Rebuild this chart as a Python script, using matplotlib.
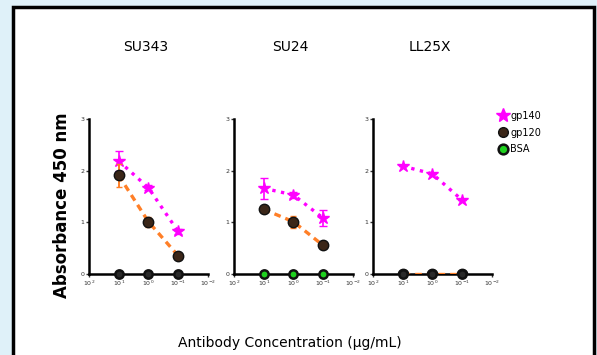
import matplotlib.pyplot as plt
from matplotlib.patches import Rectangle
from matplotlib.lines import Line2D
import numpy as np

plt.rcParams['font.family'] = ['DejaVu Sans']

conc = [10.0, 1.0, 0.1]
panels = ['SU343', 'SU24', 'LL25X']

gp140 = [[2.19, 1.67, 0.82], [1.66, 1.53, 1.08], [2.09, 1.94, 1.43]]
gp140_err = [[0.19, 0.05, 0.05], [0.20, 0.05, 0.15], [0.0, 0.0, 0.0]]
gp120 = [[1.91, 1.01, 0.35], [1.25, 1.01, 0.55], [0.0, 0.0, 0.0]]
gp120_err = [[0.23, 0.10, 0.04], [0.05, 0.12, 0.03], [0.0, 0.0, 0.0]]
bsa = [[0.0, 0.0, 0.0], [0.0, 0.0, 0.0], [0.0, 0.0, 0.0]]
bsa_face = ['#2a2a2a', '#1fd11f', '#2a2a2a']

xticks = [100, 10, 1, 0.1, 0.01]
xticklabels = ['$10^2$', '$10^1$', '$10^0$', '$10^{-1}$', '$10^{-2}$']

fig = plt.figure(figsize=(5.97, 3.55), dpi=100)
fig.patch.set_facecolor('#dff1f9')
fig.patches.append(Rectangle((13/597, -0.01), 581/597, 1 - 7/355 + 0.01,
                             transform=fig.transFigure, facecolor='white',
                             edgecolor='black', linewidth=2.5, zorder=-5))

pink = '#ff00ff'
orange = '#ff7f27'
brown = '#3b2618'

lefts = [89/597, 234/597, 373/597]
for i in range(3):
    ax = fig.add_axes([lefts[i], 0.229, 0.199, 0.435])
    ax.set_facecolor('none')
    ax.errorbar(conc, gp140[i], yerr=gp140_err[i], color=pink, ls=':', lw=2.4,
                marker='*', ms=9, mec=pink, capsize=3, elinewidth=1.2, zorder=3)
    ax.errorbar(conc, gp120[i], yerr=gp120_err[i], color=orange, ls=(0, (2, 1.5)), lw=2.4,
                marker='o', ms=7.5, mfc=brown, mec='#111111', capsize=2.5, elinewidth=1.4,
                ecolor=orange, zorder=4)
    ax.plot(conc, bsa[i], ls='none', marker='o', ms=6, mfc=bsa_face[i], mec='#111111',
            mew=1.8, zorder=5, clip_on=False)
    ax.set_xscale('log')
    ax.set_xlim(100, 0.01)
    ax.set_ylim(0, 3)
    ax.set_xticks(xticks)
    ax.set_xticklabels(xticklabels)
    ax.minorticks_off()
    ax.set_yticks([0, 1, 2, 3])
    ax.tick_params(labelsize=4.5, length=2, width=1, pad=1.5, colors='#333333')
    for s in ['top', 'right']:
        ax.spines[s].set_visible(False)
    for s in ['left', 'bottom']:
        ax.spines[s].set_linewidth(1.8)
    fig.text(lefts[i] + 0.095, 1 - 47/355, panels[i], ha='center', va='center',
             fontsize=10)

fig.text(62/597, 1 - 205/355, 'Absorbance 450 nm', rotation=90, ha='center', va='center',
         fontsize=12, fontweight='bold')
fig.text(290/597, 1 - 343/355, 'Antibody Concentration (\u03bcg/mL)', ha='center',
         va='center', fontsize=10)

handles = [Line2D([], [], ls='none', marker='*', ms=10, color=pink),
           Line2D([], [], ls='none', marker='o', ms=7, mfc=brown, mec='#111111'),
           Line2D([], [], ls='none', marker='o', ms=7, mfc='#1fd11f', mec='#111111', mew=1.8)]
fig.legend(handles, ['gp140', 'gp120', 'BSA'], loc='upper left',
           bbox_to_anchor=(488/597, 1 - 102/355), frameon=False, fontsize=7,
           handletextpad=0.2, labelspacing=0.7, handlelength=1.2)

fig.savefig('out.png', dpi=100, facecolor=fig.get_facecolor())
